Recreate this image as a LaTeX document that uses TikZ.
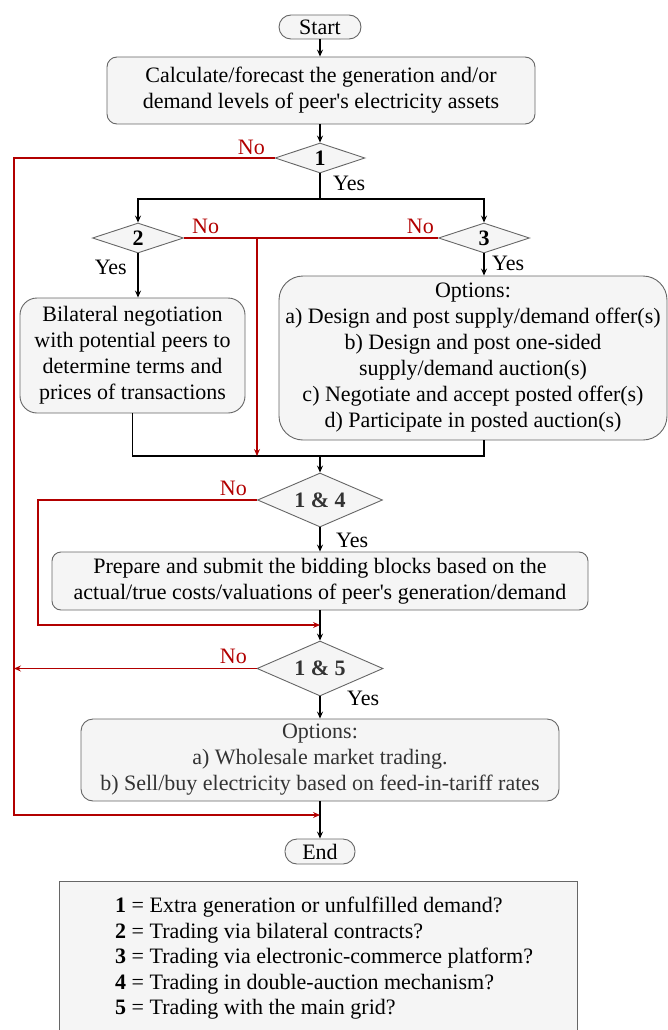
\documentclass[tikz,border=0pt]{standalone}
\usepackage{fontspec}
\setmainfont{Liberation Serif}
\usetikzlibrary{shapes.geometric,arrows.meta}

\definecolor{boxFill}{HTML}{F5F5F5}
\definecolor{boxRand}{HTML}{666666}
\definecolor{neinRot}{HTML}{B20000}
\definecolor{textGrau}{HTML}{333333}

\tikzset{
  >={Stealth[length=7pt,width=6pt,inset=2.5pt]},
  kasten/.style={draw=boxRand, fill=boxFill, line width=0.9pt, align=center, inner sep=0pt, font=\fontsize{22}{26}\selectfont},
  raute/.style={kasten, diamond, shape aspect=2.3, font=\fontsize{22}{26}\selectfont\bfseries},
  pfeil/.style={line width=1.1pt},
  nein/.style={line width=1.1pt, draw=neinRot},
  neinText/.style={text=neinRot, inner sep=0pt, font=\fontsize{22}{26}\selectfont},
  jaText/.style={inner sep=0pt, font=\fontsize{22}{26}\selectfont}
}

\begin{document}
\begin{tikzpicture}[x=1pt,y=-1pt]

\useasboundingbox (0,0) rectangle (668,1030);

% Hauptachse
\def \mX {320}

% Knoten zeichnen
\node[kasten, rounded corners=12pt, minimum width=82pt, minimum height=24pt] (start) at (\mX,27) {Start};
\node[kasten, rounded corners=10pt, minimum width=428pt, minimum height=67pt] (calc) at (321,90.5) {Calculate/forecast the generation and/or\\demand levels of peer\textquotesingle s electricity assets};
\node[raute, minimum width=90pt, minimum height=30pt] (d1) at (\mX,158) {1};
\node[raute, minimum width=91pt, minimum height=30pt] (d2) at (138,238) {2};
\node[raute, minimum width=91pt, minimum height=30pt] (d3) at (484,238) {3};
\node[kasten, rounded corners=17pt, minimum width=225pt, minimum height=115pt] (bil) at (132.5,355.5) {Bilateral negotiation\\with potential peers to\\determine terms and\\prices of transactions};
\node[kasten, rounded corners=24pt, minimum width=388pt, minimum height=164pt] (opt) at (473,358) {Options:\\a) Design and post supply/demand offer(s)\\b) Design and post one-sided\\supply/demand auction(s)\\c) Negotiate and accept posted offer(s)\\d) Participate in posted auction(s)};
\node[raute, text=textGrau, minimum width=125pt, minimum height=54pt] (d14) at (\mX,500) {1 \& 4};
\node[kasten, rounded corners=9pt, minimum width=536pt, minimum height=58pt] (prep) at (\mX,581) {Prepare and submit the bidding blocks based on the\\actual/true costs/valuations of peer\textquotesingle s generation/demand};
\node[raute, text=textGrau, minimum width=126pt, minimum height=55pt] (d15) at (\mX,668.5) {1 \& 5};
\node[kasten, text=textGrau, rounded corners=12pt, minimum width=478pt, minimum height=82pt] (opt2) at (\mX,760) {Options:\\a) Wholesale market trading.\\b) Sell/buy electricity based on feed-in-tariff rates};
\node[kasten, rounded corners=12pt, minimum width=70pt, minimum height=25pt] (end) at (\mX,851.5) {End};

% Hilfspunkte der Verbindungen
\coordinate (teilung) at (\mX,199);
\coordinate (abzweig) at (257,238);
\coordinate (sammel) at (\mX,456);
\coordinate (sammelL) at (257,456);
\coordinate (rueck14) at (\mX,625);
\coordinate (links14) at (38,625);
\coordinate (rueck1) at (\mX,815);
\coordinate (links1) at (14,815);
\coordinate (links15) at (14,668.5);

% Verbindungen (Ja)
\path[pfeil,->] (start) edge (start |- calc.north);
\path[pfeil,->] (calc.south -| start) edge (d1);
\draw[pfeil] (d1) -- (teilung);
\draw[pfeil,->] (teilung) -| (d2);
\draw[pfeil,->] (teilung) -| (d3);
\path[pfeil,->] (d2) edge (d2 |- bil.north);
\path[pfeil,->] (d3) edge (d3 |- opt.north);
\draw[pfeil] (bil) |- (sammel) -| (d3 |- opt.south);
\path[pfeil,->] (sammel) edge (d14);
\path[pfeil,->] (d14) edge (d14 |- prep.north);
\path[pfeil,->] (prep) edge (d15);
\path[pfeil,->] (d15) edge (opt2);
\path[pfeil,->] (opt2) edge (end);

% Verbindungen (Nein)
\draw[nein] (d2) -- (d3);
\draw[nein,->] (abzweig) -- (sammelL);
\draw[nein,->] (d1) -| (links1) -- (rueck1);
\draw[nein,->] (d14) -| (links14) -- (rueck14);
\draw[nein,->] (d15) -- (links15);

% Beschriftungen
\node[neinText] (nein1) at (265,154) [anchor=base east] {No};
\node[jaText] (ja1) at (333,190) [anchor=base west] {Yes};
\node[neinText] (nein2) at (192,233) [anchor=base west] {No};
\node[neinText] (nein3) at (434,233) [anchor=base east] {No};
\node[jaText] (ja2) at (127,274) [anchor=base east] {Yes};
\node[jaText] (ja3) at (492,270) [anchor=base west] {Yes};
\node[neinText] (nein14) at (247,495) [anchor=base east] {No};
\node[jaText] (ja14) at (336,547) [anchor=base west] {Yes};
\node[neinText] (nein15) at (247,663) [anchor=base east] {No};
\node[jaText] (ja15) at (347,705) [anchor=base west] {Yes};

% Legende
\draw[draw=boxRand, fill=boxFill, line width=0.9pt] (59,881) rectangle (577,1040);
\node[jaText, align=left, font=\fontsize{22}{25.5}\selectfont] (legende) at (115,897) [anchor=north west] {\textbf{1} = Extra generation or unfulfilled demand?\\\textbf{2} = Trading via bilateral contracts?\\\textbf{3} = Trading via electronic-commerce platform?\\\textbf{4} = Trading in double-auction mechanism?\\\textbf{5} = Trading with the main grid?};

\end{tikzpicture}
\end{document}
